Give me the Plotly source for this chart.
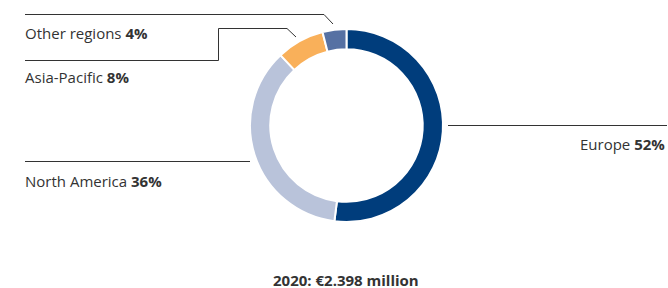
import plotly.graph_objects as go

W, H = 668, 288

regions = ["Europe", "North America", "Asia-Pacific", "Other regions"]
shares = [52, 36, 8, 4]
colors = ["#003d7c", "#b9c3da", "#f9b05a", "#5671a3"]
total_label = "2020: €2.398 million"

def px(x):
    return x / W

def py(y):
    return 1 - y / H

fig = go.Figure()
fig.add_trace(go.Pie(
    labels=regions,
    values=shares,
    sort=False,
    direction="clockwise",
    rotation=0,
    hole=0.79,
    marker=dict(colors=colors, line=dict(color="white", width=2)),
    textinfo="none",
    hoverinfo="label+percent",
    showlegend=False,
    domain=dict(x=[px(250), px(443)], y=[py(222), py(29)]),
))

line_style = dict(color="#333333", width=1)

def path(points):
    return "M " + " L ".join(f"{px(x)},{py(y)}" for x, y in points)

leaders = [
    [(25, 14.5), (324, 14.5), (333, 24)],
    [(25, 60.5), (218.5, 60.5), (218.5, 28.5), (287, 28.5), (296, 37)],
    [(448, 125.5), (667, 125.5)],
    [(25, 161.5), (250, 161.5)],
]
for pts in leaders:
    fig.add_shape(type="path", xref="paper", yref="paper", path=path(pts), line=line_style)

font = dict(family="'Open Sans', sans-serif", size=15, color="#333333")

labels_pos = [
    ("Europe", 667, 143.5, "right"),
    ("North America", 23, 180.5, "left"),
    ("Asia-Pacific", 23, 76.5, "left"),
    ("Other regions", 23, 32.5, "left"),
]
for (name, x, y, anchor) in labels_pos:
    val = shares[regions.index(name)]
    fig.add_annotation(
        x=px(x), y=py(y), xref="paper", yref="paper",
        text=f"{name} <b>{val}%</b>",
        showarrow=False, xanchor=anchor, yanchor="middle", font=font,
    )

fig.add_annotation(
    x=px(346), y=py(279.5), xref="paper", yref="paper",
    text=f"<b>{total_label}</b>", showarrow=False,
    xanchor="center", yanchor="middle", borderpad=0, font=font,
)

fig.update_layout(
    width=W, height=H,
    margin=dict(l=0, r=0, t=0, b=0),
    paper_bgcolor="white", plot_bgcolor="white",
)

fig.write_html(
    "out.html",
    config={"displayModeBar": False},
    post_script="document.body.style.margin='0';document.body.style.overflow='hidden';",
)
